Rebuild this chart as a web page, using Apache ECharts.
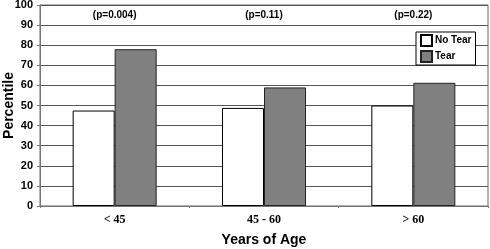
<!DOCTYPE html>
<html>
<head>
<meta charset="utf-8">
<script src="https://cdn.jsdelivr.net/npm/echarts@6/dist/echarts.min.js"></script>
<style>
    html, body { margin: 0; padding: 0; background: #fff; }
    #main { width: 490px; height: 249px; }
</style>
</head>
<body>
<div id="main"></div>
<script>
// 数据
let ageGroups = ['< 45', '45 - 60', '> 60'];
let pValues = ['(p=0.004)', '(p=0.11)', '(p=0.22)'];
let noTear = [47.5, 48.8, 50];
let tear = [78, 59, 61.3];

let myChart = echarts.init(document.getElementById('main'));

let boldFont = 'Liberation Sans';

let option = {
    animation: false,
    backgroundColor: '#fff',
    grid: {
        left: 40,
        right: 2,
        top: 5,
        bottom: 43,
        outerBoundsMode: 'none',
        containLabel: false,
        show: true,
        borderColor: '#666',
        borderWidth: 1
    },
    legend: {
        orient: 'vertical',
        left: 416,
        top: 32,
        backgroundColor: '#fff',
        borderColor: '#000',
        borderWidth: 1,
        padding: [2, 4],
        itemWidth: 11,
        itemHeight: 11,
        itemGap: 3,
        textStyle: {
            fontFamily: boldFont,
            fontWeight: 'bold',
            fontSize: 10,
            color: '#000',
            padding: [0, 0, 0, -2]
        },
        data: [
            {name: 'No Tear', icon: 'rect'},
            {name: 'Tear', icon: 'rect'}
        ]
    },
    xAxis: [
        {
            type: 'category',
            data: ageGroups,
            name: 'Years of Age',
            nameLocation: 'middle',
            nameGap: 27,
            nameMoveOverlap: false,
            nameTextStyle: {
                fontFamily: boldFont,
                fontWeight: 'bold',
                fontSize: 14,
                color: '#000'
            },
            axisLine: {lineStyle: {color: '#777', width: 1}},
            axisTick: {show: true, length: 2, lineStyle: {color: '#777'}},
            axisLabel: {
                margin: 8,
                fontFamily: 'Liberation Serif',
                fontWeight: 'bold',
                fontSize: 12,
                color: '#000'
            }
        },
        {
            // 顶部p值
            type: 'category',
            position: 'top',
            data: pValues,
            axisLine: {show: false},
            axisTick: {show: false},
            axisLabel: {
                inside: true,
                margin: 5,
                fontFamily: boldFont,
                fontWeight: 'bold',
                fontSize: 10,
                color: '#000'
            }
        }
    ],
    yAxis: {
        type: 'value',
        min: 0,
        max: 100,
        interval: 10,
        name: 'Percentile',
        nameLocation: 'middle',
        nameGap: 24,
        nameMoveOverlap: false,
        nameTextStyle: {
            fontFamily: boldFont,
            fontWeight: 'bold',
            fontSize: 14,
            color: '#000'
        },
        axisLine: {show: true, lineStyle: {color: '#777'}},
        axisTick: {show: true, length: 3, lineStyle: {color: '#777'}},
        axisLabel: {
            margin: 7,
            fontFamily: boldFont,
            fontWeight: 'bold',
            fontSize: 11,
            color: '#000'
        },
        splitLine: {lineStyle: {color: '#555', width: 1}}
    },
    series: [
        {
            name: 'No Tear',
            type: 'bar',
            data: noTear,
            barWidth: 42,
            barGap: 0,
            itemStyle: {color: '#fff', borderColor: '#000', borderWidth: 1}
        },
        {
            name: 'Tear',
            type: 'bar',
            data: tear,
            barWidth: 42,
            barGap: 0,
            itemStyle: {color: '#808080', borderColor: '#222', borderWidth: 1}
        }
    ]
};

myChart.setOption(option);
</script>
</body>
</html>
